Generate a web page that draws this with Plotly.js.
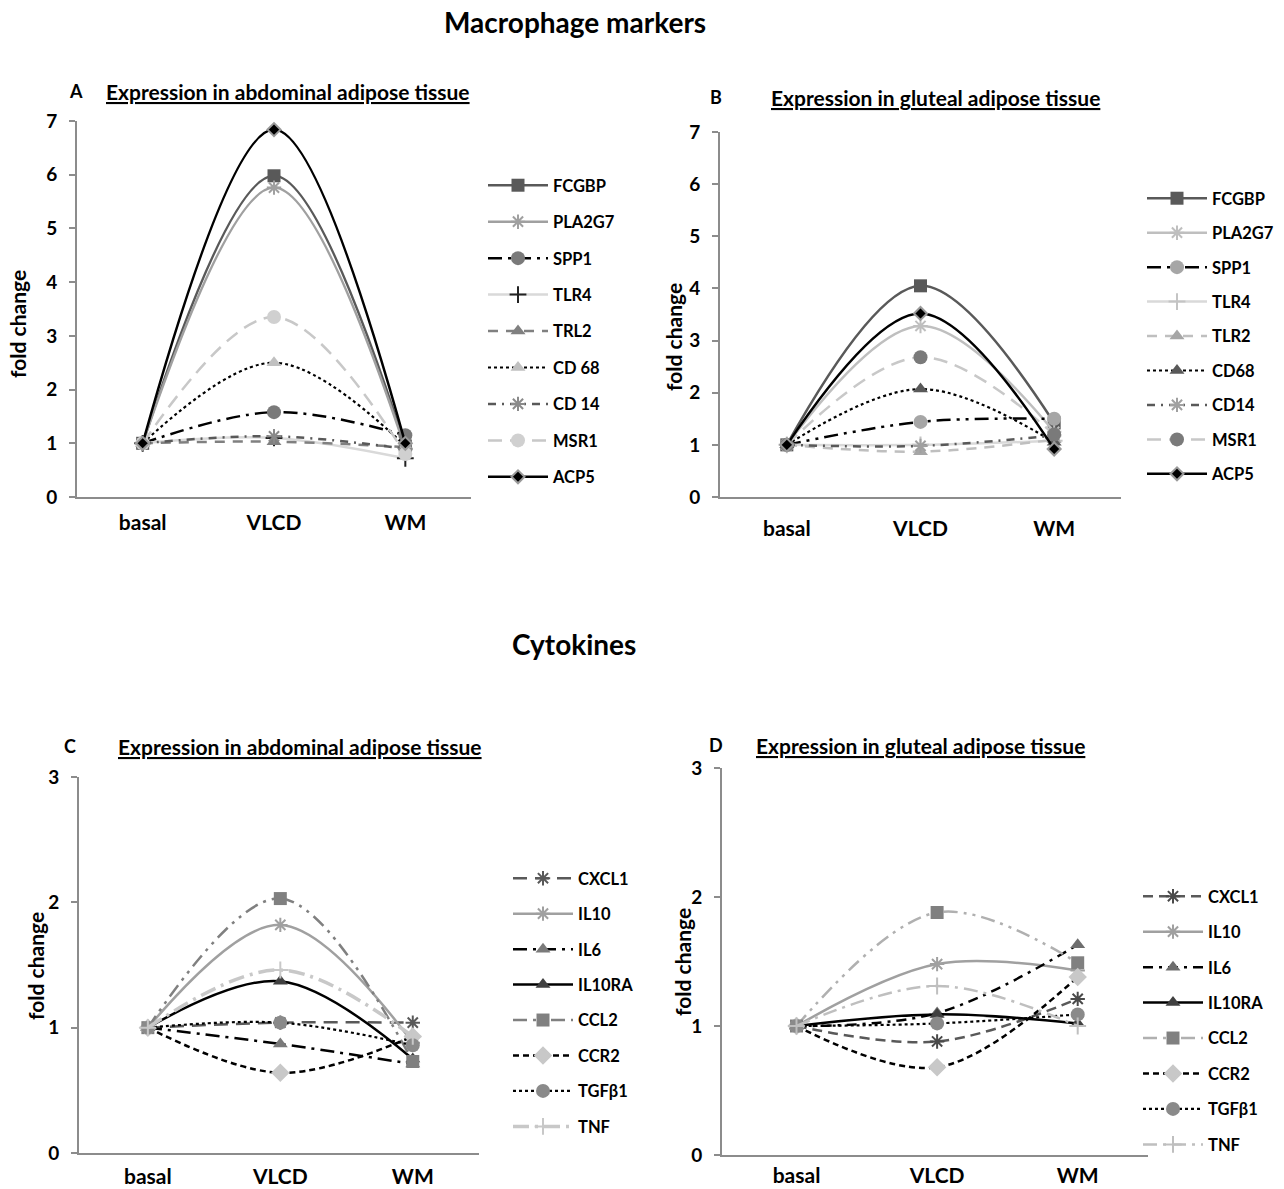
<!DOCTYPE html>
<html>
<head>
<meta charset="utf-8">
<script src="https://cdn.plot.ly/plotly-3.0.1.min.js"></script>
<style>html,body{margin:0;padding:0;background:#fff;}#chart{width:1284px;height:1189px;}</style>
</head>
<body>
<div id="chart"></div>
<script>
// ---------------- DATA ----------------
const categories = ['basal', 'VLCD', 'WM'];

// Macrophage markers
const macroNamesA = ['FCGBP', 'PLA2G7', 'SPP1', 'TLR4', 'TRL2', 'CD 68', 'CD 14', 'MSR1', 'ACP5'];
const macroNamesB = ['FCGBP', 'PLA2G7', 'SPP1', 'TLR4', 'TLR2', 'CD68', 'CD14', 'MSR1', 'ACP5'];
const abdFCGBP  = [1, 5.98, 0.95];
const abdPLA2G7 = [1, 5.76, 0.90];
const abdSPP1   = [1, 1.58, 1.15];
const abdTLR4   = [1, 1.10, 0.72];
const abdTRL2   = [1, 1.03, 0.93];
const abdCD68   = [1, 2.50, 0.95];
const abdCD14   = [1, 1.13, 0.90];
const abdMSR1   = [1, 3.35, 0.80];
const abdACP5   = [1, 6.84, 1.00];

const glutFCGBP  = [1, 4.05, 1.42];
const glutPLA2G7 = [1, 3.28, 1.25];
const glutSPP1   = [1, 1.44, 1.50];
const glutTLR4   = [1, 1.00, 1.08];
const glutTLR2   = [1, 0.87, 1.10];
const glutCD68   = [1, 2.07, 1.05];
const glutCD14   = [1, 0.98, 1.18];
const glutMSR1   = [1, 2.68, 1.20];
const glutACP5   = [1, 3.52, 0.92];

// Cytokines
const cytoNames = ['CXCL1', 'IL10', 'IL6', 'IL10RA', 'CCL2', 'CCR2', 'TGFβ1', 'TNF'];
const abdCXCL1  = [1, 1.04, 1.04];
const abdIL10   = [1, 1.82, 0.88];
const abdIL6    = [1, 0.87, 0.71];
const abdIL10RA = [1, 1.37, 0.75];
const abdCCL2   = [1, 2.03, 0.73];
const abdCCR2   = [1, 0.64, 0.93];
const abdTGFb1  = [1, 1.04, 0.86];
const abdTNF    = [1, 1.46, 0.93];

const glutCXCL1  = [1, 0.88, 1.21];
const glutIL10   = [1, 1.48, 1.43];
const glutIL6    = [1, 1.10, 1.63];
const glutIL10RA = [1, 1.09, 1.02];
const glutCCL2   = [1, 1.88, 1.49];
const glutCCR2   = [1, 0.68, 1.38];
const glutTGFb1  = [1, 1.02, 1.09];
const glutTNF    = [1, 1.31, 1.00];

const panelAValues = [abdFCGBP, abdPLA2G7, abdSPP1, abdTLR4, abdTRL2, abdCD68, abdCD14, abdMSR1, abdACP5];
const panelBValues = [glutFCGBP, glutPLA2G7, glutSPP1, glutTLR4, glutTLR2, glutCD68, glutCD14, glutMSR1, glutACP5];
const panelCValues = [abdCXCL1, abdIL10, abdIL6, abdIL10RA, abdCCL2, abdCCR2, abdTGFb1, abdTNF];
const panelDValues = [glutCXCL1, glutIL10, glutIL6, glutIL10RA, glutCCL2, glutCCR2, glutTGFb1, glutTNF];

// ---------------- STYLES ----------------
// [lineColor, dash, lineWidth, symbol, markerColor, markerLineColor, markerSize]
const styleA = [
  ['#595959', 'solid', 2.5, 'square', '#595959', '#595959', 13],
  ['#a0a0a0', 'solid', 2.5, 'asterisk-open', '#a0a0a0', '#a0a0a0', 12],
  ['#000000', '14px,6px,3px,6px', 2.5, 'circle', '#7a7a7a', '#7a7a7a', 14],
  ['#d9d9d9', 'solid', 2.5, 'cross-thin-open', '#222222', '#222222', 12],
  ['#808080', '10px,8px', 2.5, 'triangle-up', '#808080', '#808080', 13],
  ['#000000', 'dot', 2.2, 'triangle-up', '#c0c0c0', '#c0c0c0', 13],
  ['#595959', '8px,6px,2px,6px', 2.5, 'asterisk-open', '#8a8a8a', '#8a8a8a', 12],
  ['#c8c8c8', '14px,8px', 2.5, 'circle', '#d0d0d0', '#d0d0d0', 14],
  ['#000000', 'solid', 2.5, 'diamond', '#000000', '#9a9a9a', 10]
];
const styleB = [
  ['#595959', 'solid', 2.5, 'square', '#595959', '#595959', 13],
  ['#bfbfbf', 'solid', 2.5, 'asterisk-open', '#bfbfbf', '#bfbfbf', 12],
  ['#000000', '14px,6px,3px,6px,3px,6px', 2.5, 'circle', '#a6a6a6', '#a6a6a6', 14],
  ['#d9d9d9', 'solid', 2.5, 'cross-thin-open', '#c4c4c4', '#c4c4c4', 12],
  ['#bfbfbf', '10px,8px', 2.5, 'triangle-up', '#a6a6a6', '#a6a6a6', 13],
  ['#000000', 'dot', 2.2, 'triangle-up', '#595959', '#595959', 13],
  ['#595959', '8px,6px,2px,6px', 2.5, 'asterisk-open', '#a0a0a0', '#a0a0a0', 12],
  ['#c8c8c8', '14px,8px', 2.5, 'circle', '#7a7a7a', '#7a7a7a', 14],
  ['#000000', 'solid', 2.5, 'diamond', '#000000', '#9a9a9a', 10]
];
const styleC = [
  ['#595959', '14px,8px', 2.5, 'asterisk-open', '#595959', '#595959', 12],
  ['#a0a0a0', 'solid', 2.5, 'asterisk-open', '#a0a0a0', '#a0a0a0', 12],
  ['#000000', '14px,6px,3px,6px', 2.5, 'triangle-up', '#7a7a7a', '#7a7a7a', 13],
  ['#000000', 'solid', 2.5, 'triangle-up', '#404040', '#404040', 13],
  ['#808080', '14px,6px,3px,6px,3px,6px', 2.5, 'square', '#808080', '#808080', 13],
  ['#000000', '6px,4px', 2.5, 'diamond', '#c8c8c8', '#c8c8c8', 12],
  ['#000000', 'dot', 2.2, 'circle', '#8a8a8a', '#8a8a8a', 14],
  ['#c8c8c8', '16px,6px,3px,6px', 3.5, 'cross-thin-open', '#c8c8c8', '#c8c8c8', 12]
];
const styleD = [
  ['#595959', '10px,6px', 2.5, 'asterisk-open', '#4a4a4a', '#4a4a4a', 12],
  ['#a0a0a0', 'solid', 2.5, 'asterisk-open', '#a0a0a0', '#a0a0a0', 12],
  ['#000000', '10px,6px,3px,6px', 2.5, 'triangle-up', '#6e6e6e', '#6e6e6e', 13],
  ['#000000', 'solid', 2.5, 'triangle-up', '#404040', '#404040', 13],
  ['#b0b0b0', '14px,6px,3px,6px,3px,6px', 2.5, 'square', '#808080', '#808080', 13],
  ['#000000', '6px,4px', 2.5, 'diamond', '#c8c8c8', '#c8c8c8', 12],
  ['#000000', 'dot', 2.2, 'circle', '#8a8a8a', '#8a8a8a', 14],
  ['#bfbfbf', '14px,6px,3px,6px', 2.5, 'cross-thin-open', '#bfbfbf', '#bfbfbf', 12]
];

// ---------------- BUILD ----------------
const W = 1284, H = 1189;
const px = v => v / W;
const py = v => 1 - v / H;
const FONT = 'Lato, "Open Sans", sans-serif';

const traces = [];
function addPanel(names, values, styles, xa, ya, legendId) {
  names.forEach((n, i) => {
    const s = styles[i];
    const t = {
      type: 'scatter', mode: 'lines+markers',
      x: categories, y: values[i], name: n,
      xaxis: xa, yaxis: ya,
      legend: legendId, legendgroup: legendId + '_' + i,
      line: {color: s[0], dash: s[1], width: s[2], shape: 'spline', smoothing: 1},
      marker: {symbol: s[3], color: s[4], size: s[6], line: {color: s[5], width: s[3].indexOf('open') >= 0 ? 2 : (s[3] === 'diamond' ? 2 : 0)}},
      cliponaxis: false, hoverinfo: 'skip'
    };
    traces.push(t);
  });
}
addPanel(macroNamesA, panelAValues, styleA, 'x', 'y', 'legend');
addPanel(macroNamesB, panelBValues, styleB, 'x2', 'y2', 'legend2');
addPanel(cytoNames, panelCValues, styleC, 'x3', 'y3', 'legend3');
addPanel(cytoNames, panelDValues, styleD, 'x4', 'y4', 'legend4');

const axisCommon = {
  showgrid: false, zeroline: false, showline: true, linecolor: '#8c8c8c', linewidth: 2,
  fixedrange: true
};
function xaxis(dom, range, anchor, standoff) {
  return Object.assign({}, axisCommon, {domain: dom, range: range, anchor: anchor, type: 'category',
    ticks: '', ticklabelstandoff: standoff,
    tickfont: {family: FONT, size: 21, color: '#000', weight: 'bold'}});
}
function yaxis(dom, range, dtick, anchor) {
  return Object.assign({}, axisCommon, {domain: dom, range: range, anchor: anchor, dtick: dtick,
    ticks: 'outside', ticklen: 6, tickwidth: 2, tickcolor: '#8c8c8c', ticklabelstandoff: 8,
    tickfont: {family: FONT, size: 19, color: '#000', weight: 'bold'}});
}

function legendAt(x, y, gap) {
  return {x: px(x), y: py(y), xanchor: 'left', yanchor: 'top', bgcolor: 'rgba(0,0,0,0)',
    font: {family: FONT, size: 16.5, color: '#000', weight: 'bold'},
    traceorder: 'grouped', tracegroupgap: gap, itemwidth: 60, itemclick: false, itemdoubleclick: false};
}

function ann(text, x, y, size, extra) {
  return Object.assign({text: text, x: px(x), y: py(y), xref: 'paper', yref: 'paper',
    showarrow: false, xanchor: 'center', yanchor: 'middle',
    font: {family: FONT, size: size, color: '#000', weight: 'bold'}}, extra || {});
}

const layout = {
  width: W, height: H, margin: {l: 0, r: 0, t: 0, b: 0},
  paper_bgcolor: '#fff', plot_bgcolor: '#fff',
  font: {family: FONT},
  xaxis:  xaxis([px(77), px(471)], [-0.5, 2.5], 'y', 6),
  yaxis:  yaxis([py(497), py(121)], [0, 7], 1, 'x'),
  xaxis2: xaxis([px(720), px(1121)], [-0.5, 2.5], 'y2', 12),
  yaxis2: yaxis([py(497), py(132)], [0, 7], 1, 'x2'),
  xaxis3: xaxis([px(79), px(479)], [-0.52, 2.5], 'y3', 4),
  yaxis3: yaxis([py(1153), py(777)], [0, 3], 1, 'x3'),
  xaxis4: xaxis([px(722), px(1148)], [-0.53, 2.5], 'y4', 1),
  yaxis4: yaxis([py(1155), py(768)], [0, 3], 1, 'x4'),
  legend:  legendAt(483, 168, 12),
  legend2: legendAt(1142, 181, 10),
  legend3: legendAt(508, 861, 11),
  legend4: legendAt(1138, 879, 11),
  annotations: [
    ann('Macrophage markers', 575, 22, 28),
    ann('Cytokines', 574, 644, 28),
    ann('A', 76, 91, 18),
    ann('<u>Expression in abdominal adipose tissue</u>', 288, 91, 21),
    ann('B', 716, 97, 18),
    ann('<u>Expression in gluteal adipose tissue</u>', 935, 97, 21),
    ann('C', 70, 746, 18),
    ann('<u>Expression in abdominal adipose tissue</u>', 300, 746, 21),
    ann('D', 716, 745, 18),
    ann('<u>Expression in gluteal adipose tissue</u>', 920, 745, 21),
    ann('fold change', 18, 324, 21, {textangle: -90}),
    ann('fold change', 673, 337, 21, {textangle: -90}),
    ann('fold change', 35, 966, 21, {textangle: -90}),
    ann('fold change', 682, 962, 21, {textangle: -90})
  ]
};

Plotly.newPlot('chart', traces, layout, {staticPlot: true, displayModeBar: false});
</script>
</body>
</html>
